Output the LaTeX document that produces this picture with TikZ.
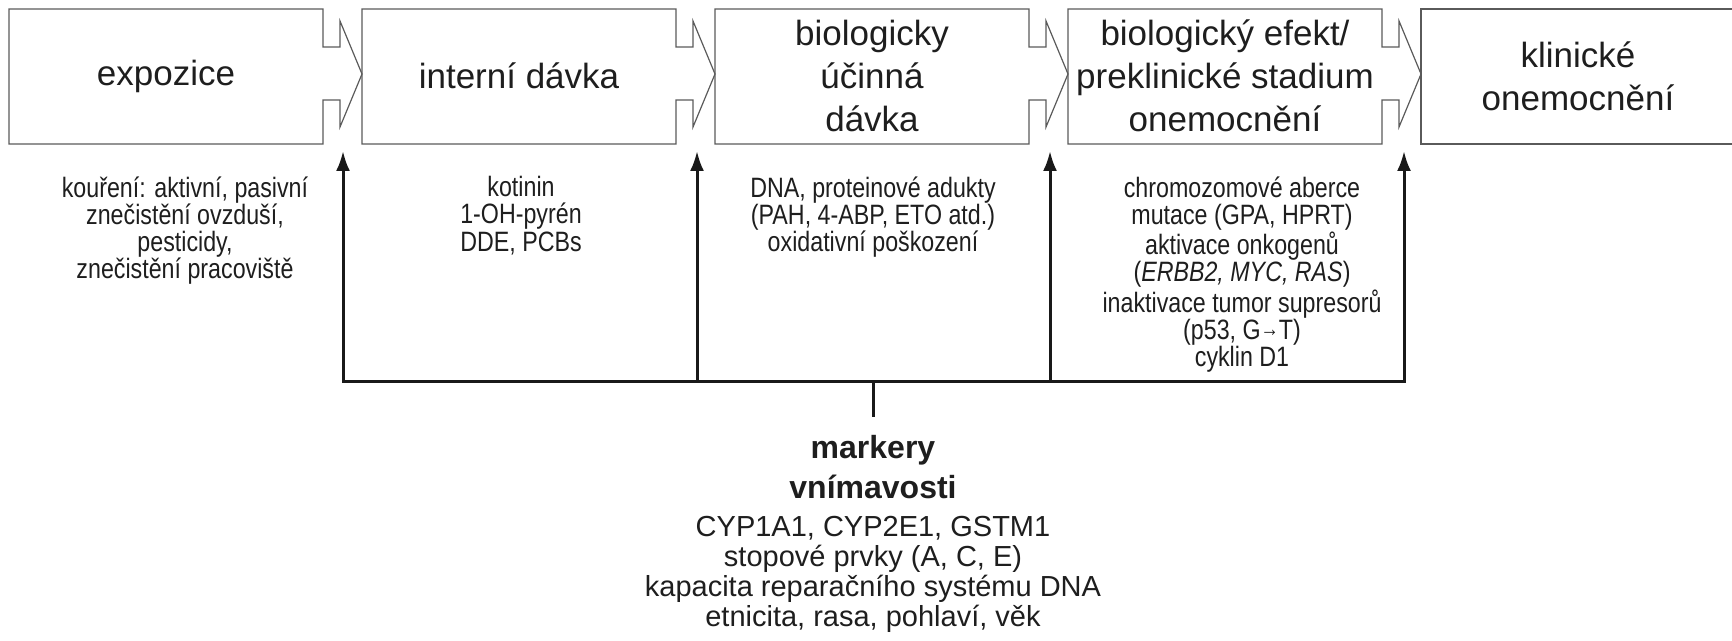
\documentclass[tikz,border=0pt]{standalone}
\usepackage{fontspec}
\setmainfont{Liberation Sans}
\newfontfamily\narrowsans[FakeStretch=0.83]{Liberation Sans}
\usetikzlibrary{arrows.meta}
\definecolor{inkgray}{HTML}{1E1E1E}
\definecolor{framegray}{HTML}{5A5A5A}
\tikzset{
  stageline/.style={draw=framegray, line width=0.6pt, line join=miter},
  stagetext/.style={align=center, text=inkgray, font={\fontsize{17.5pt}{21.5pt}\selectfont}},
  markertext/.style={align=center, anchor=north, inner sep=0pt, text=inkgray, font={\narrowsans\fontsize{14pt}{13.6pt}\selectfont}},
  susctext/.style={align=center, anchor=north, inner sep=0pt, text=inkgray, font={\fontsize{14.5pt}{15pt}\selectfont}},
  bus/.style={line width=1.5pt, draw=black!90},
  feed/.style={bus, -{Latex[length=10pt,width=7pt]}},
}
% stage box with its block arrow: name, left edge, label
\newcommand{\stage}[3]{
  \draw[stageline] (#2,9) -- ++(314,0) -- ++(0,38) -- ++(17,0) -- ++(0,-26)
    -- ++(22,53) -- ++(-22,53) -- ++(0,-27) -- ++(-17,0) -- ++(0,44) -- ++(-314,0) -- cycle;
  \node[stagetext] (#1) at (#2+157,76) {#3};}

\begin{document}
\begin{tikzpicture}[x=0.5pt,y=-0.5pt]
  \useasboundingbox (0,0) rectangle (1732,641);
  \clip (0,0) rectangle (1732,641);

  % stages
  \stage{expo}{9}{expozice}
  \stage{intd}{362}{interní dávka}
  \stage{bied}{715}{biologicky\\účinná\\dávka}
  \stage{bief}{1068}{biologický efekt/\\preklinické stadium\\onemocnění}
  \draw[stageline] (1421,9) rectangle (1745,144);
  \node[stagetext] (klin) at (1578,76) {klinické\\onemocnění};

  % markers under the stages
  \node[markertext] (expm) at (185,176) {kouření: aktivní, pasivní\\znečistění ovzduší,\\pesticidy,\\znečistění pracoviště};
  \node[markertext] (intm) at (521,176) {kotinin\\1-OH-pyrén\\DDE, PCBs};
  \node[markertext] (biem) at (873,176) {DNA, proteinové adukty\\(PAH, 4-ABP, ETO atd.)\\oxidativní poškození};
  \node[markertext] (efem) at (1242,176) {chromozomové aberce\\mutace (GPA, HPRT)\\aktivace onkogenů\\(\textit{ERBB2, MYC, RAS})\\inaktivace tumor supresorů\\(p53, G{\fontsize{11pt}{11pt}\selectfont\raisebox{1.5pt}{→}}T)\\cyklin D1};

  % feed lines
  \coordinate (b1) at (343,381);
  \coordinate (b2) at (697,381);
  \coordinate (b3) at (1050,381);
  \coordinate (b4) at (1404,381);
  \coordinate (t1) at (343,151);
  \coordinate (t2) at (697,151);
  \coordinate (t3) at (1050,151);
  \coordinate (t4) at (1404,151);
  \coordinate (hub) at (873,381);
  \draw[bus, {Latex[length=10pt,width=7pt]}-{Latex[length=10pt,width=7pt]}] (t1) -- (b1) -- (b4) -- (t4);
  \draw[feed] (b2) -- (t2);
  \draw[feed] (b3) -- (t3);

  % susceptibility
  \node[align=center, anchor=north, inner xsep=0pt, inner ysep=9pt, text=inkgray,
        font={\bfseries\fontsize{16pt}{20pt}\selectfont}] (mark) at (873,417) {markery\\vnímavosti};
  \draw[bus] (hub) -- (mark.north);
  \node[susctext] (susc) at (873,516) {CYP1A1, CYP2E1, GSTM1\\stopové prvky (A, C, E)\\kapacita reparačního systému DNA\\etnicita, rasa, pohlaví, věk};
\end{tikzpicture}
\end{document}
